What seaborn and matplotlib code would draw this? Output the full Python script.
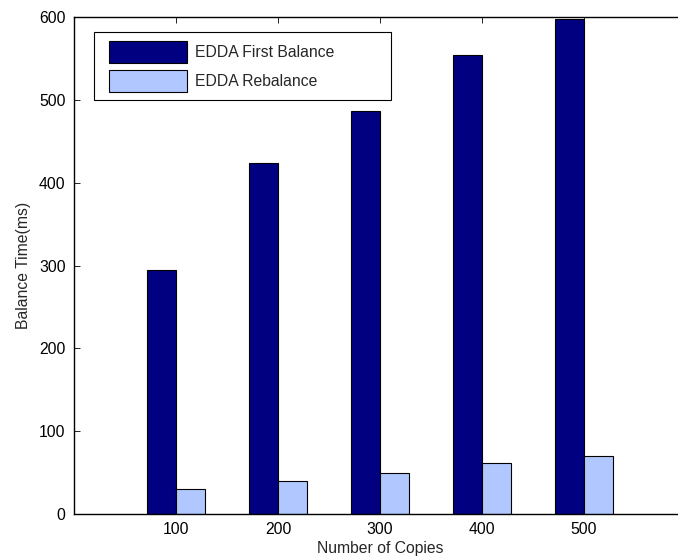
import matplotlib
matplotlib.use("Agg")
import matplotlib.pyplot as plt
import seaborn as sns
import pandas as pd
from matplotlib.legend_handler import HandlerPatch
from matplotlib.patches import Rectangle

copies = ["100", "200", "300", "400", "500"]
first_balance = [295, 424, 487, 554, 597]
rebalance = [30, 40, 50, 62, 70]
series_names = ["EDDA First Balance", "EDDA Rebalance"]
colors = ["#000080", "#B0C8FF"]

df = pd.DataFrame({
    "copies": copies * 2,
    "time": first_balance + rebalance,
    "series": [series_names[0]] * len(copies) + [series_names[1]] * len(copies),
})

sns.set_theme(style="white")
plt.rcParams["font.family"] = ["Liberation Sans", "DejaVu Sans"]

FS = 11.3
fig = plt.figure(figsize=(6.78, 5.60), dpi=100)
ax = fig.add_axes([74 / 678, 1 - 514 / 560, 612 / 678, (514 - 17) / 560])

sns.barplot(data=df, x="copies", y="time", hue="series", palette=colors,
            width=0.57, edgecolor="black", linewidth=0.8, ax=ax, saturation=1)

ax.set_xlim(-1, 5)
ax.set_ylim(0, 600)
ax.set_yticks([0, 100, 200, 300, 400, 500, 600])
ax.set_xlabel("Number of Copies", fontsize=FS, labelpad=3)
ax.set_ylabel("Balance Time(ms)", fontsize=FS, labelpad=6)
ax.tick_params(direction="in", length=4, width=0.6, colors="black",
               labelsize=FS, top=True, right=True, bottom=True, left=True,
               pad=6)
for s in ax.spines.values():
    s.set_visible(True)
    s.set_color("black")
    s.set_linewidth(1.0)

x0 = (94 - 74) / 612
w = (391 - 94) / 612
ytop = (514 - 32) / 497
leg = ax.legend(loc="upper left", bbox_to_anchor=(x0, ytop - 0.2, w, 0.2),
                mode="expand",
                handler_map={Rectangle: HandlerPatch(xpad=0.42)},
                fontsize=FS, frameon=True, fancybox=False, edgecolor="black",
                handlelength=5.37, handleheight=1.78, borderpad=0.55,
                labelspacing=0.45, borderaxespad=0, handletextpad=0.5)
leg.get_frame().set_linewidth(0.8)
leg.get_frame().set_facecolor("white")
leg.get_frame().set_alpha(1)

fig.savefig("out.png", dpi=100)
